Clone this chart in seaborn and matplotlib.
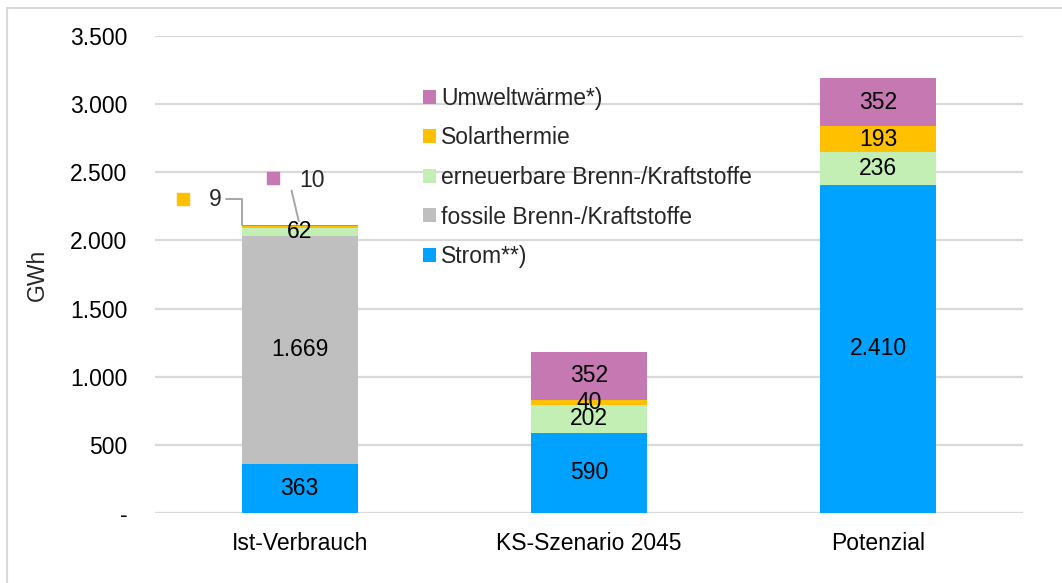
import numpy as np
import pandas as pd
import matplotlib
matplotlib.use("Agg")
import matplotlib.pyplot as plt
import matplotlib.transforms as mtransforms
from matplotlib.patches import Patch, Rectangle
import seaborn as sns

# Daten (GWh)
kategorien = ["Ist-Verbrauch", "KS-Szenario 2045", "Potenzial"]
strom = [363, 590, 2410]
fossil = [1669, 0, 0]
erneuerbar = [62, 202, 236]
solar = [9, 40, 193]
umwelt = [10, 352, 352]

serien = ["Strom**)", "fossile Brenn-/Kraftstoffe", "erneuerbare Brenn-/Kraftstoffe",
          "Solarthermie", "Umweltwärme*)"]
farben = ["#00A2FF", "#BFBFBF", "#C3EEB4", "#FFC000", "#C678B2"]
yticks = [0, 500, 1000, 1500, 2000, 2500, 3000, 3500]

sns.set_theme(style="white")
plt.rcParams["font.family"] = ["Liberation Sans", "DejaVu Sans"]
FS = 16.5


def fmt_de(v):
    if v == 0:
        return "-"
    return f"{v:,.0f}".replace(",", ".")


def main():
    werte = np.array([strom, fossil, erneuerbar, solar, umwelt], dtype=float)
    kum = werte.cumsum(axis=0)
    df = pd.DataFrame(kum.T, columns=serien)
    df["Kategorie"] = kategorien

    fig = plt.figure(figsize=(10.62, 5.83), dpi=100)
    ax = fig.add_axes([155 / 1062, 1 - 513 / 583, (1023 - 155) / 1062, (513 - 36) / 583])

    # gestapelt: kumulierte Summen von oben nach unten übereinander zeichnen
    for i in reversed(range(len(serien))):
        sns.barplot(data=df, x="Kategorie", y=serien[i], color=farben[i],
                    width=0.4, saturation=1, linewidth=0, ax=ax,
                    zorder=2 + (len(serien) - i))

    ax.set_xlim(-0.5, 2.5)
    ax.set_ylim(0, 3500)
    ax.set_yticks(yticks)
    ax.set_yticklabels([fmt_de(v) for v in yticks], fontsize=FS)
    ax.set_xticks(range(len(kategorien)))
    ax.set_xticklabels(kategorien, fontsize=FS)
    ax.set_xlabel("")
    ax.set_ylabel("GWh", fontsize=FS, labelpad=15)
    ax.tick_params(axis="y", length=0, pad=20, colors="black")
    ax.tick_params(axis="x", length=0, pad=14, colors="black")
    ax.grid(axis="y", color="#D9D9D9", linewidth=1.6, zorder=0)
    ax.set_axisbelow(True)
    for s in ax.spines.values():
        s.set_visible(False)

    # Segmentbeschriftungen
    for j in range(len(kategorien)):
        for i in range(len(serien)):
            v = werte[i, j]
            if v == 0:
                continue
            if j == 0 and i >= 3:
                continue
            mitte = kum[i, j] - v / 2
            ax.text(j, mitte, fmt_de(v), ha="center", va="center",
                    fontsize=FS, color="black", zorder=20)

    # Callouts für kleine Werte (Ist-Verbrauch)
    oben = kum[-1, 0]
    linie = dict(arrowstyle="-", color="#A6A6A6", lw=1.4, shrinkA=1, shrinkB=0)
    ax.annotate(fmt_de(solar[0]), xy=(-0.2, oben), xytext=(-27, 26),
                textcoords="offset pixels", ha="center", va="center", fontsize=FS,
                arrowprops=dict(linie, connectionstyle="angle,angleA=0,angleB=90,rad=0"),
                zorder=20)
    ax.annotate(fmt_de(umwelt[0]), xy=(0, oben), xytext=(12, 45),
                textcoords="offset pixels", ha="center", va="center", fontsize=FS,
                arrowprops=dict(linie, relpos=(-0.3, 0.1), shrinkB=3), zorder=20)
    for dx, dy, c in [(-117, 26, farben[3]), (-27, 47, farben[4])]:
        tr = mtransforms.offset_copy(ax.transData, fig=fig, x=dx, y=dy, units="dots")
        ax.plot([0], [oben], marker="s", markersize=9, color=c, transform=tr,
                clip_on=False, zorder=20)

    # Legende
    handles = [Patch(facecolor=farben[i], edgecolor="none", label=serien[i])
               for i in reversed(range(len(serien)))]
    fig.legend(handles=handles, loc="upper left", bbox_to_anchor=(423 / 1062, 1 - 87 / 583),
               frameon=False, fontsize=FS, handlelength=0.55, handleheight=0.55,
               handletextpad=0.25, labelspacing=0.72, borderaxespad=0, borderpad=0)

    # Rahmen um die Grafik
    fig.patches.append(Rectangle((7 / 1062, -0.1), 1.2, 1.1 - 8 / 583,
                                 transform=fig.transFigure, fill=False,
                                 edgecolor="#D9D9D9", linewidth=1.5))

    fig.savefig("out.png", dpi=100)


if __name__ == "__main__":
    main()
